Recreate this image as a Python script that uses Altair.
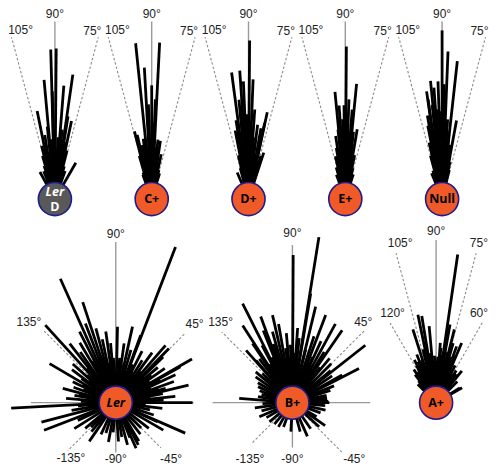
import altair as alt
import pandas as pd

# ---------------- data: root angle (deg) and root length (px units) ----------------
LERD_ANGLE = [89.5, 91.6, 81.8, 95.2, 85.5, 91.4, 101.4, 81, 78, 96,
              99, 84, 87, 93, 104, 76, 80, 100, 106, 90,
              88, 94, 97, 83, 86, 79, 102, 108, 74, 92,
              95, 89, 81, 99, 105, 77, 119, 60, 112, 70]
LERD_LEN = [151, 150, 126, 120, 114, 108, 90, 84, 80, 73,
            65, 70, 62, 60, 55, 50, 58, 48, 45, 50,
            45, 44, 40, 42, 38, 36, 38, 35, 34, 35,
            33, 30, 30, 30, 28, 28, 31, 42, 30, 30]

CPLUS_ANGLE = [95.9, 87.1, 93.2, 90, 87.9, 92, 104.3, 102.7, 98, 84,
               81.5, 100, 96, 86, 89, 93, 106, 78, 101, 83,
               91, 97, 88, 104, 80, 94, 86, 99, 108, 76,
               90, 110, 73, 95, 84]
CPLUS_LEN = [157, 157, 132, 114, 100, 95, 70, 66, 61, 60,
             59, 55, 58, 52, 50, 48, 45, 46, 42, 44,
             40, 38, 36, 35, 35, 32, 30, 30, 28, 30,
             28, 26, 27, 26, 26]

DPLUS_ANGLE = [89.6, 97.6, 93.9, 87.8, 92.5, 95.5, 95.2, 77.8, 78, 80,
               91, 86, 99, 83, 101, 88, 94, 84, 97, 90,
               79, 71.8, 74, 100.8, 113, 103, 86, 92, 81, 95,
               88, 98, 77, 84, 91, 105, 73, 94, 87, 100]
DPLUS_LEN = [159, 128, 129, 120, 118, 100, 89, 89, 78, 72,
             85, 90, 80, 75, 70, 68, 65, 62, 60, 58,
             55, 49, 45, 39, 29, 45, 45, 44, 42, 40,
             38, 36, 38, 34, 33, 32, 32, 30, 30, 28]

EPLUS_ANGLE = [89.6, 84.4, 95.5, 93.8, 90.8, 87.9, 85.6, 98.7, 80.3, 92,
               88, 96, 83, 94, 91, 86, 100, 82, 97, 89,
               93, 78, 103, 85, 91, 95, 87, 80, 99, 106,
               76, 93, 84, 89, 97, 102, 110, 72]
EPLUS_LEN = [153, 116, 108, 94, 94, 100, 90, 64, 71, 80,
             75, 70, 68, 60, 62, 58, 52, 55, 50, 50,
             47, 45, 44, 44, 40, 40, 38, 36, 36, 33,
             32, 32, 30, 30, 28, 28, 26, 26]

NULL_ANGLE = [90, 87.7, 83.7, 95.6, 92, 94.2, 89, 98.2, 98, 79.6,
              96, 93, 91, 100, 86, 101, 88, 95, 84, 97,
              90, 103, 82, 92, 99, 86, 105, 80, 94, 88,
              101, 78, 91, 96, 84, 108, 76, 89, 112, 98]
NULL_LEN = [169, 148, 139, 119, 118, 112, 115, 109, 101, 80,
            95, 90, 88, 85, 80, 75, 72, 70, 65, 62,
            60, 58, 55, 52, 50, 48, 45, 44, 42, 40,
            38, 38, 35, 34, 33, 30, 30, 30, 28, 28]

LER_ANGLE = [69, 88.7, 77.6, 69.7, 49, 45.5, 29.8, 13.6, 29, 25,
             0, 11, 82, 74, 63, 58, 54, 40, 35, 20,
             16, 6, 85, 78, 66, 52, 42, 33, 22, 8,
             3, 60, 72, 48, 37, 18, 27, 44,
             114.1, 108.2, 132.3, 105, 98, 102, 95, 111, 117, 121,
             125, 128, 138, 143, 149.5, 154, 160, 165, 170, 175,
             183, 178, 93, 100, 108, 113, 120, 131, 136, 145,
             152, 158, 168, 115, 127, 140, 104, 97,
             -165.3, -159, -148, -124.4, -100.6, -86, -59, -74.5, -23.7, -24.5,
             -7, -170, -155, -140, -135, -130, -115, -108, -95, -80,
             -68, -52, -45, -38, -30, -18, -12, -3, -175, -62, -66]
LER_LEN = [167, 76, 78, 72, 76, 76, 88, 75, 74, 66,
           77, 48, 60, 55, 58, 50, 62, 55, 60, 62,
           52, 60, 45, 40, 42, 40, 38, 40, 38, 35,
           48, 35, 32, 30, 45, 45, 50, 66,
           136, 106, 105, 77, 72, 65, 60, 85, 80, 70,
           62, 75, 58, 55, 77, 48, 45, 55, 42, 50,
           105, 35, 45, 40, 50, 45, 48, 45, 40, 42,
           38, 35, 38, 38, 35, 35, 35, 33,
           77, 77, 49, 47, 40, 39, 45, 44, 76, 46,
           47, 45, 42, 40, 35, 38, 35, 32, 30, 35,
           38, 40, 36, 42, 55, 40, 35, 30, 38, 48, 50]

BPLUS_ANGLE = [80.9, 89.7, 116.7, 122.8, 110.2, 105.7, 80.5, 76.4, 69.2, 61.4,
               55.5, 38.2, 27.2, 29, 124, 131.5, 130.7, 135.7, 175.4, 170,
               100, 95, 112, 118, 108, 102.8, 97, 92, 86, 84,
               72, 65, 58, 50, 45, 40, 34, 22, 18, 12,
               140, 145, 150, 155, 160, 127, 104, 88, 76, 66,
               52, 114, 120, 99, 93, 82, 70, 62, 8, 4,
               165, 0, 2,
               -157, -150, -165, -172, -140, -130, -93, -66, -42, -12.7,
               -5, -20, -55, -75, -110, -120, -178, -35, -30]
BPLUS_LEN = [168, 148, 111, 92, 92, 74, 111, 99, 94, 90,
             88, 93, 75, 57, 71.5, 70, 56, 42, 53.5, 35,
             80, 70, 78, 65, 62, 90, 55, 58, 75, 65,
             70, 68, 60, 58, 55, 50, 48, 45, 40, 35,
             48, 45, 40, 38, 35, 55, 48, 50, 55, 50,
             45, 50, 45, 45, 42, 42, 45, 42, 35, 35,
             32, 37, 36,
             36, 30, 32, 38, 30, 28, 29, 37, 36, 34,
             33, 30, 32, 30, 26, 28, 30, 40, 28]

APLUS_ANGLE = [81.7, 101.7, 99.4, 107.6, 95.2, 79.9, 76, 66.8, 111.9, 124,
               129, 51, 32, 70, 74, 85, 88, 92, 97, 104,
               109, 114, 118, 120, 117, 83, 78, 72, 68, 63,
               58, 55, 90, 94, 100, 106, 86, 80, 96, 102,
               112, 122, 127, 60, 45, 135, 30, 86, 77]
APLUS_LEN = [150, 90, 88, 77, 77, 79.5, 75.6, 65, 52, 40,
             28, 41, 28, 60, 62, 55, 46, 47, 50, 55,
             45, 45, 42, 36, 48, 48, 45, 48, 50, 42,
             38, 35, 42, 42, 40, 38, 40, 38, 36, 35,
             35, 32, 35, 32, 30, 26, 30, 60, 52]

# ---------------- reference guides and their labels ----------------
TOP_REF_ANGLE = [90, 105, 75]
TOP_REF_LEN = [178, 168, 168]
TOP_REF_DASH = [False, True, True]
TOP_LAB_TEXT = ["90°", "105°", "75°"]
TOP_LAB_ANGLE = [90, 101.5, 77.5]
TOP_LAB_R = [185, 172.5, 173]

LER_REF_ANGLE = [90, 0, 180, -90, 135, 45, -135, -45]
LER_REF_LEN = [161, 78, 85, 50, 102, 98, 68, 64]
LER_REF_DASH = [False, False, False, False, True, True, True, True]
LER_LAB_TEXT = ["90°", "135°", "45°", "-135°", "-90°", "-45°"]
LER_LAB_ANGLE = [90, 137, 45, -128.8, -90, -45.3]
LER_LAB_R = [169, 119, 111.7, 71.8, 56, 78.8]

BPLUS_REF_ANGLE = [90, 0, 180, -90, 135, 45, -135, -45]
BPLUS_REF_LEN = [158, 78, 80, 45, 100, 102, 57, 70]
BPLUS_REF_DASH = [False, False, False, False, True, True, True, True]
BPLUS_LAB_TEXT = ["90°", "135°", "45°", "-135°", "-90°", "-45°"]
BPLUS_LAB_ANGLE = [90, 131.6, 48.8, -127.2, -90, -42.1]
BPLUS_LAB_R = [170, 108.4, 107.7, 70.3, 56, 83.5]

APLUS_REF_ANGLE = [90, 105, 75, 120, 60]
APLUS_REF_LEN = [163, 155, 155, 92, 93]
APLUS_REF_DASH = [False, True, True, True, True]
APLUS_LAB_TEXT = ["90°", "105°", "75°", "120°", "60°"]
APLUS_LAB_ANGLE = [90, 102.7, 75, 115.9, 64.5]
APLUS_LAB_R = [172, 164, 165.7, 100, 99.7]

# ---------------- styling ----------------
ORANGE = "#F05A28"
DARK = "#595959"
RIM = "#1C1C8A"
LABEL_FONT = "Liberation Sans"
NAME_FONT = "Open Sans"
PX = "datum.r * cos(datum.a * PI / 180)"
PY = "datum.r * sin(datum.a * PI / 180)"


def panel(name, sub, fill, txt_color, italic, ang, lens, ref_a, ref_r, ref_d,
          lab_t, lab_a, lab_r, xdom, ydom):
    xs = alt.Scale(domain=xdom, nice=False, zero=False)
    ys = alt.Scale(domain=ydom, nice=False, zero=False)

    def origin():
        return dict(x=alt.X("ox:Q", scale=xs, axis=None),
                    y=alt.Y("oy:Q", scale=ys, axis=None))

    def rules(df, **mk):
        return (alt.Chart(df)
                .transform_calculate(ox="0", oy="0", ex=PX, ey=PY)
                .mark_rule(**mk)
                .encode(**origin(), x2="ex:Q", y2="ey:Q"))

    solid = pd.DataFrame({"a": [a for a, d in zip(ref_a, ref_d) if not d],
                          "r": [r for r, d in zip(ref_r, ref_d) if not d]})
    dashed = pd.DataFrame({"a": [a for a, d in zip(ref_a, ref_d) if d],
                           "r": [r for r, d in zip(ref_r, ref_d) if d]})
    roots = pd.DataFrame({"a": ang, "r": lens})

    layers = [
        rules(solid, color="#9a9a9a", strokeWidth=1.4),
        rules(dashed, color="#8c8c8c", strokeWidth=1.1, strokeDash=[2.5, 2]),
        rules(roots, color="black", strokeWidth=2.8, strokeCap="butt"),
    ]
    hub = pd.DataFrame({"name": [name]})
    layers.append(
        alt.Chart(hub).transform_calculate(ox="0", oy="0")
        .mark_point(shape="circle", filled=True, size=1100, fill=fill,
                    stroke=RIM, strokeWidth=1.6, opacity=1,
                    fillOpacity=1, strokeOpacity=1)
        .encode(**origin()))
    layers.append(
        alt.Chart(hub).transform_calculate(ox="0", oy="0")
        .mark_text(font=NAME_FONT, fontWeight="bold", fontSize=12.5,
                   fontStyle="italic" if italic else "normal",
                   color=txt_color, baseline="middle", align="center",
                   dy=-7.5 if sub else 0)
        .encode(**origin(), text="name:N"))
    if sub:
        layers.append(
            alt.Chart(pd.DataFrame({"name": [sub]})).transform_calculate(ox="0", oy="0")
            .mark_text(font=NAME_FONT, fontWeight="bold", fontSize=12.5,
                       color=txt_color, baseline="middle", align="center", dy=8)
            .encode(**origin(), text="name:N"))
    labs = pd.DataFrame({"t": lab_t, "a": lab_a, "r": lab_r})
    layers.append(
        alt.Chart(labs).transform_calculate(ex=PX, ey=PY)
        .mark_text(font=LABEL_FONT, fontSize=12, color="#222222",
                   baseline="middle", align="center")
        .encode(x=alt.X("ex:Q", scale=xs, axis=None),
                y=alt.Y("ey:Q", scale=ys, axis=None), text="t:N"))
    return alt.layer(*layers).properties(width=xdom[1] - xdom[0],
                                         height=ydom[1] - ydom[0])


TOP_Y = [-25, 191]
BOT_Y = [-61, 179]
top_refs = (TOP_REF_ANGLE, TOP_REF_LEN, TOP_REF_DASH, TOP_LAB_TEXT, TOP_LAB_ANGLE, TOP_LAB_R)

top = alt.hconcat(
    panel("Ler", "D", DARK, "white", True, LERD_ANGLE, LERD_LEN, *top_refs, [-46, 48], TOP_Y),
    panel("C+", None, ORANGE, "black", False, CPLUS_ANGLE, CPLUS_LEN, *top_refs, [-49, 48], TOP_Y),
    panel("D+", None, ORANGE, "black", False, DPLUS_ANGLE, DPLUS_LEN, *top_refs, [-49, 48], TOP_Y),
    panel("E+", None, ORANGE, "black", False, EPLUS_ANGLE, EPLUS_LEN, *top_refs, [-49, 48], TOP_Y),
    panel("Null", None, ORANGE, "black", False, NULL_ANGLE, NULL_LEN, *top_refs, [-49, 48], TOP_Y),
    spacing=0, bounds="flush")

bottom = alt.hconcat(
    panel("Ler", None, ORANGE, "black", True, LER_ANGLE, LER_LEN,
          LER_REF_ANGLE, LER_REF_LEN, LER_REF_DASH, LER_LAB_TEXT, LER_LAB_ANGLE, LER_LAB_R,
          [-107, 88], BOT_Y),
    panel("B+", None, ORANGE, "black", False, BPLUS_ANGLE, BPLUS_LEN,
          BPLUS_REF_ANGLE, BPLUS_REF_LEN, BPLUS_REF_DASH, BPLUS_LAB_TEXT, BPLUS_LAB_ANGLE, BPLUS_LAB_R,
          [-89, 84], BOT_Y),
    panel("A+", None, ORANGE, "black", False, APLUS_ANGLE, APLUS_LEN,
          APLUS_REF_ANGLE, APLUS_REF_LEN, APLUS_REF_DASH, APLUS_LAB_TEXT, APLUS_LAB_ANGLE, APLUS_LAB_R,
          [-60, 54], BOT_Y),
    spacing=0, bounds="flush")

chart = (alt.vconcat(top, bottom, spacing=0, padding=0)
         .configure_view(stroke=None))

chart.save("out.html", embed_options={"renderer": "svg", "actions": False})
